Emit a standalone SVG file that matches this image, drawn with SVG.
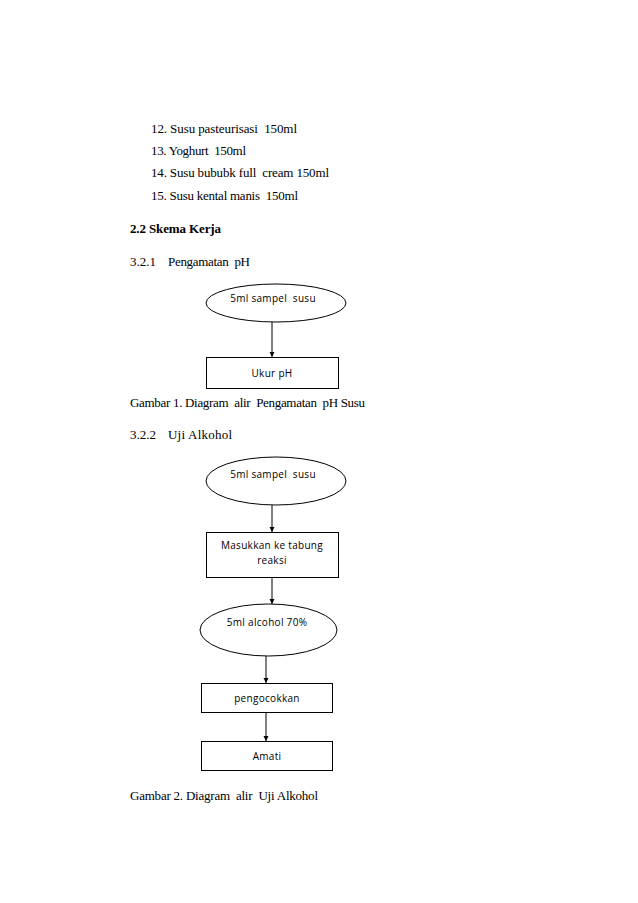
<svg xmlns="http://www.w3.org/2000/svg" width="638" height="903" viewBox="0 0 638 903">
<style>
text{white-space:pre}
.t{font-family:"Liberation Serif",serif;font-size:13px;fill:#000}
.b{font-weight:bold}
.n{font-family:"Open Sans","Liberation Sans",sans-serif;font-size:10px;letter-spacing:0.3px;fill:#000;text-anchor:middle}
.s{fill:#fff;stroke:#000;stroke-width:1}
.c{stroke:#000;stroke-width:1;fill:none;marker-end:url(#ah)}
</style>
<defs>
<marker id="ah" markerWidth="6" markerHeight="6" refX="5" refY="3" orient="auto" markerUnits="userSpaceOnUse">
<path d="M0,0.5 L5,3 L0,5.5 Z" fill="#000"/>
</marker>
</defs>
<rect width="638" height="903" fill="#fff"/>
<g id="text">
<text class="t" x="151" y="133" textLength="146">12. Susu pasteurisasi  150ml</text>
<text class="t" x="151" y="155" textLength="95">13. Yoghurt  150ml</text>
<text class="t" x="151" y="177" textLength="178">14. Susu bububk full  cream 150ml</text>
<text class="t" x="151" y="200" textLength="147">15. Susu kental manis  150ml</text>
<text class="t b" x="130" y="233" textLength="91">2.2 Skema Kerja</text>
<text class="t" x="130" y="266">3.2.1</text>
<text class="t" x="168" y="266" textLength="82">Pengamatan  pH</text>
<text class="t" x="130" y="407" textLength="235">Gambar 1. Diagram  alir  Pengamatan  pH Susu</text>
<text class="t" x="130" y="439">3.2.2</text>
<text class="t" x="168" y="439" textLength="64">Uji Alkohol</text>
<text class="t" x="130" y="800" textLength="188">Gambar 2. Diagram  alir  Uji Alkohol</text>
</g>
<g id="connectors">
<line class="c" x1="272" y1="322" x2="272" y2="357"/>
<line class="c" x1="272" y1="505" x2="272" y2="532"/>
<line class="c" x1="272" y1="577" x2="272" y2="604"/>
<line class="c" x1="266" y1="656" x2="266" y2="683"/>
<line class="c" x1="266" y1="712" x2="266" y2="741"/>
</g>
<g id="n1">
<ellipse class="s" cx="276" cy="303" rx="70" ry="19"/>
<text class="n" x="273" y="302">5ml sampel  susu</text>
</g>
<g id="n2">
<rect class="s" x="206.5" y="357.5" width="132" height="31"/>
<text class="n" x="272" y="377">Ukur pH</text>
</g>
<g id="n3">
<ellipse class="s" cx="276" cy="481" rx="70" ry="24"/>
<text class="n" x="273" y="478">5ml sampel  susu</text>
</g>
<g id="n4">
<rect class="s" x="206.5" y="532.5" width="132" height="45"/>
<text class="n" x="272" y="549">Masukkan ke tabung</text>
<text class="n" x="272" y="564">reaksi</text>
</g>
<g id="n5">
<ellipse class="s" cx="268.5" cy="630" rx="68.5" ry="26"/>
<text class="n" x="267" y="626">5ml alcohol 70%</text>
</g>
<g id="n6">
<rect class="s" x="201.5" y="683.5" width="131" height="29"/>
<text class="n" x="267" y="702">pengocokkan</text>
</g>
<g id="n7">
<rect class="s" x="201.5" y="741.5" width="131" height="29"/>
<text class="n" x="267" y="760">Amati</text>
</g>
</svg>
